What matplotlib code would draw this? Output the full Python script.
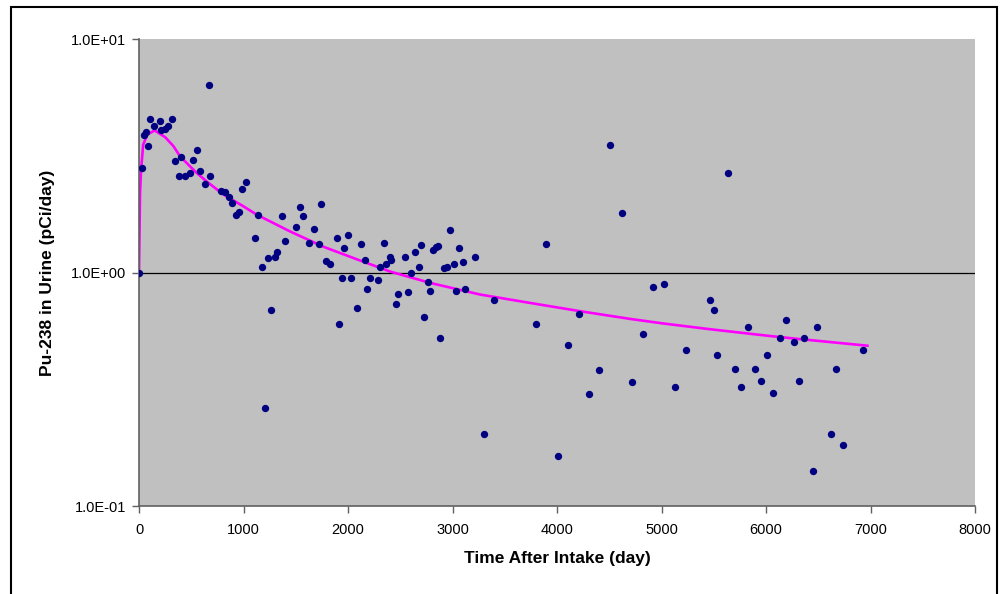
import matplotlib
matplotlib.use("Agg")
import matplotlib.pyplot as plt
from matplotlib.patches import Rectangle
from matplotlib.ticker import FixedLocator, FuncFormatter, NullLocator

plt.rcParams['font.family'] = ['Liberation Sans', 'DejaVu Sans']

# measured bioassay points (day, pCi/day)
days = [0, 29, 51, 64, 86, 108, 147, 198, 211, 249, 281, 313, 348, 383, 405,
        443, 488, 520, 555, 587, 635, 670, 679, 782, 820, 864, 887, 928, 957,
        989, 1024, 1113, 1139, 1174, 1206, 1231, 1266, 1298, 1321, 1365, 1400,
        1505, 1541, 1573, 1630, 1678, 1722, 1742, 1793, 1825, 1895, 1917, 1943,
        1965, 1997, 2032, 2089, 2124, 2160, 2182, 2213, 2287, 2309, 2342, 2367,
        2399, 2415, 2456, 2481, 2548, 2574, 2600, 2641, 2676, 2699, 2730, 2766,
        2788, 2817, 2839, 2861, 2880, 2922, 2944, 2973, 3017, 3030, 3062, 3100,
        3124, 3215, 3304, 3397, 3796, 3892, 4007, 4108, 4211, 4303, 4405, 4507,
        4625, 4714, 4820, 4922, 5024, 5126, 5232, 5461, 5506, 5527, 5633, 5700,
        5758, 5828, 5897, 5952, 6012, 6067, 6137, 6195, 6265, 6319, 6367, 6447,
        6492, 6619, 6673, 6734, 6928]
urine = [1.0, 2.81, 3.90, 4.0, 3.48, 4.56, 4.25, 4.45, 4.06, 4.10, 4.23, 4.56,
         2.99, 2.58, 3.13, 2.58, 2.67, 3.03, 3.35, 2.72, 2.40, 6.34, 2.58, 2.24,
         2.22, 2.10, 1.99, 1.77, 1.81, 2.27, 2.44, 1.40, 1.77, 1.06, 0.263, 1.15,
         0.688, 1.16, 1.23, 1.75, 1.37, 1.57, 1.90, 1.75, 1.34, 1.54, 1.32, 1.97,
         1.12, 1.09, 1.41, 0.602, 0.946, 1.27, 1.45, 0.946, 0.703, 1.32, 1.13,
         0.851, 0.946, 0.925, 1.06, 1.34, 1.09, 1.17, 1.13, 0.730, 0.811, 1.16,
         0.829, 1.0, 1.23, 1.06, 1.31, 0.648, 0.912, 0.832, 1.25, 1.28, 1.30,
         0.523, 1.05, 1.06, 1.52, 1.09, 0.832, 1.27, 1.11, 0.848, 1.16, 0.203,
         0.764, 0.603, 1.33, 0.163, 0.487, 0.663, 0.303, 0.384, 3.51, 1.79,
         0.341, 0.543, 0.871, 0.891, 0.323, 0.465, 0.764, 0.688, 0.442, 2.67,
         0.385, 0.323, 0.583, 0.385, 0.342, 0.444, 0.304, 0.523, 0.625, 0.505,
         0.342, 0.523, 0.141, 0.583, 0.203, 0.385, 0.183, 0.467]

# predicted excretion curve
fit_days = [0, 10, 20, 40, 80, 150, 250, 329, 392, 488, 552, 650, 807, 1000,
            1126, 1445, 1764, 2083, 2402, 2785, 3263, 3742, 4220, 4699, 5017,
            5432, 6000, 6261, 6970]
fit_urine = [1.0, 2.2, 2.76, 3.53, 3.90, 4.06, 3.80, 3.48, 3.15, 2.85, 2.67,
             2.45, 2.16, 1.92, 1.77, 1.50, 1.29, 1.14, 1.01, 0.903, 0.805,
             0.741, 0.683, 0.633, 0.605, 0.574, 0.537, 0.522, 0.486]

y_ticks = [0.1, 1.0, 10.0]
x_ticks = list(range(0, 8001, 1000))

fig = plt.figure(figsize=(10, 5.94), dpi=100)
ax = fig.add_axes([0.139, 0.1481, 0.836, 0.7862])
ax.set_facecolor('#C0C0C0')

ax.axhline(1.0, color='black', lw=0.9, zorder=1)
ax.plot(fit_days, fit_urine, color='#FF00FF', lw=1.9, zorder=2)
ax.scatter(days, urine, s=28, color='#000080', zorder=3, linewidths=0)

ax.set_yscale('log')
ax.set_xlim(0, 8000)
ax.set_ylim(0.1, 10)
ax.yaxis.set_major_locator(FixedLocator(y_ticks))
ax.yaxis.set_minor_locator(NullLocator())
ax.yaxis.set_major_formatter(FuncFormatter(lambda v, p: '%.1E' % v))
ax.set_xticks(x_ticks)

for side in ['top', 'right']:
    ax.spines[side].set_visible(False)
for side in ['left', 'bottom']:
    ax.spines[side].set_color('#606060')
    ax.spines[side].set_linewidth(1.2)

ax.tick_params(axis='both', direction='out', length=5, width=1, color='#606060',
               labelsize=10.5, labelcolor='black', pad=4)
ax.tick_params(axis='x', pad=7)

ax.set_xlabel('Time After Intake (day)', fontsize=12.5, fontweight='bold', labelpad=10)
ax.set_ylabel('Pu-238 in Urine (pCi/day)', fontsize=12.5, fontweight='bold', labelpad=12)

# outer chart frame
frame = Rectangle((0.011, -0.05), 0.986, 0.988 + 0.05, transform=fig.transFigure,
                  fill=False, edgecolor='black', lw=1.5, clip_on=False)
fig.patches.append(frame)

fig.savefig('out.png', dpi=100)
